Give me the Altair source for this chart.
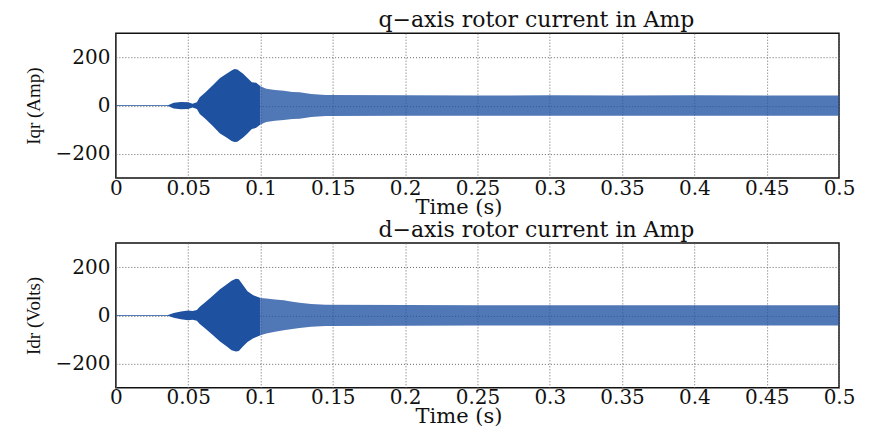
import altair as alt
import pandas as pd

# Envelope of the q-axis rotor current (upper / lower peaks)
t_q = [0.0, 0.036, 0.040, 0.045, 0.050, 0.053, 0.056, 0.058, 0.062, 0.067, 0.072, 0.0765, 0.080,
       0.082, 0.084, 0.088, 0.091, 0.094, 0.097, 0.100, 0.104, 0.110, 0.116, 0.122, 0.127,
       0.135, 0.145, 0.20, 0.25, 0.30, 0.35, 0.40, 0.45, 0.50]
q_upper = [2, 2, 12, 15, 14, 8, 14, 35, 55, 84, 115, 132, 146,
           152, 150, 132, 115, 97, 95, 80, 70, 65, 62, 56, 55,
           48, 44, 43, 42, 43, 42, 43, 42, 42]
q_lower = [-2, -2, -12, -15, -14, -8, -14, -35, -55, -84, -115, -132, -146,
           -151, -150, -132, -115, -97, -92, -78, -68, -63, -60, -55, -54,
           -47, -43, -42, -42, -42, -42, -42, -42, -42]

# Envelope of the d-axis rotor current
t_d = [0.0, 0.036, 0.040, 0.045, 0.050, 0.053, 0.056, 0.058, 0.062, 0.067, 0.072, 0.0765, 0.080,
       0.083, 0.085, 0.088, 0.091, 0.095, 0.100, 0.104, 0.110, 0.116, 0.122, 0.127,
       0.135, 0.145, 0.20, 0.25, 0.30, 0.35, 0.40, 0.45, 0.50]
d_upper = [2, 2, 10, 16, 20, 18, 22, 36, 55, 81, 108, 128, 144,
           152, 150, 125, 100, 83, 72, 70, 66, 63, 56, 52,
           47, 44, 43, 42, 42, 42, 42, 42, 42]
d_lower = [-2, -2, -10, -16, -20, -18, -22, -36, -55, -81, -108, -128, -144,
           -150, -148, -128, -110, -95, -82, -75, -68, -62, -56, -52,
           -47, -44, -43, -42, -42, -42, -42, -42, -42]

x_ticks = [0, 0.05, 0.1, 0.15, 0.2, 0.25, 0.3, 0.35, 0.4, 0.45, 0.5]
y_ticks = [-200, 0, 200]

FONT = "DejaVu Serif"
YFONT = "Liberation Serif"
BLUE = "#1f51a1"


def panel(t, up, lo, title, ylabel):
    df = pd.DataFrame({"t": t, "up": up, "lo": lo})
    x = alt.X(
        "t:Q",
        scale=alt.Scale(domain=[0, 0.5], nice=False, zero=False),
        axis=alt.Axis(
            values=x_ticks, format="~g", title="Time (s)",
            grid=True, gridDash=[1, 2], gridColor="#666", gridOpacity=1, gridWidth=1,
            domain=False, ticks=False, labelFlush=False, labelOverlap=False,
            labelFont=FONT, labelFontSize=20, labelColor="#111", labelPadding=0,
            titleFont=FONT, titleFontSize=21, titleFontWeight="normal", titleColor="#111",
            titlePadding=-2, titleX=343,
        ),
    )
    y = alt.Y(
        "up:Q",
        scale=alt.Scale(domain=[-300, 300], nice=False),
        axis=alt.Axis(
            values=y_ticks, format="d", title=ylabel,
            grid=True, gridDash=[1, 2], gridColor="#666", gridOpacity=1, gridWidth=1,
            domain=False, ticks=False,
            labelFont=FONT, labelFontSize=20, labelColor="#111", labelPadding=6,
            titleFont=YFONT, titleFontSize=19, titleFontWeight="normal", titleColor="#111",
            titlePadding=12,
        ),
    )
    base = alt.Chart(df)
    dense = base.transform_filter("datum.t <= 0.1").mark_area(
        color=BLUE, opacity=1).encode(x=x, y=y, y2="lo:Q")
    steady = base.transform_filter("datum.t >= 0.1").mark_area(
        color=BLUE, opacity=0.78).encode(x=x, y=y, y2="lo:Q")
    return alt.layer(dense, steady).properties(
        width=724, height=145,
        title=alt.TitleParams(
            text=title, font=FONT, fontSize=22, fontWeight="normal", color="#111",
            anchor="middle", dx=59, offset=1,
        ),
    )


p1 = panel(t_q, q_upper, q_lower, "q\u2212axis rotor current in Amp", "Iqr (Amp)")
p2 = panel(t_d, d_upper, d_lower, "d\u2212axis rotor current in Amp", "Idr (Volts)")

chart = alt.vconcat(p1, p2, spacing=65, bounds="flush").properties(
    padding={"left": 15, "top": 0, "right": 5, "bottom": 5},
).configure_view(stroke="#111", strokeWidth=1.5)

chart.save("out.html", embed_options={"renderer": "svg", "actions": False})
